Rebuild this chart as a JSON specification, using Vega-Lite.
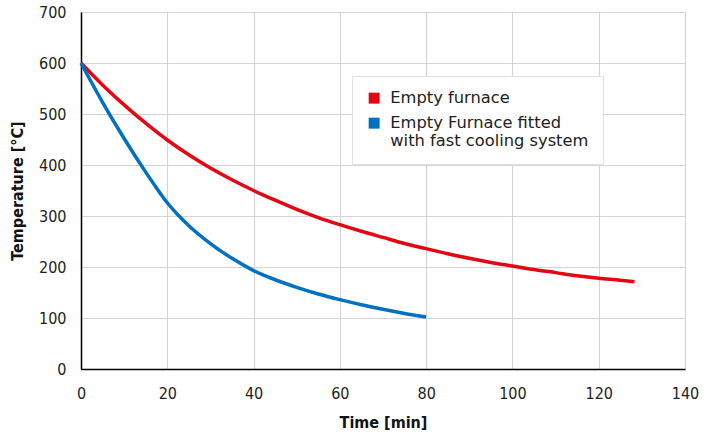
{
  "$schema": "https://vega.github.io/schema/vega-lite/v6.json",
  "autosize": "none",
  "width": 604,
  "height": 357,
  "padding": {"left": 81, "top": 12, "right": 25, "bottom": 68},
  "background": "white",
  "config": {
    "view": {"stroke": null},
    "font": "DejaVu Sans",
    "axis": {
      "gridColor": "#d4d4d4",
      "gridWidth": 1.2,
      "domainColor": "#000000",
      "domainWidth": 1.5,
      "ticks": false,
      "labelFont": "DejaVu Sans Condensed",
      "labelFontSize": 16,
      "labelColor": "#222222",
      "titleFont": "DejaVu Sans Condensed",
      "titleFontSize": 16,
      "titleFontWeight": "bold",
      "titleColor": "#111111"
    }
  },
  "data": {
    "values": [
      {"t": 0, "T": 600, "s": "Empty furnace"},
      {"t": 5, "T": 557, "s": "Empty furnace"},
      {"t": 10, "T": 518, "s": "Empty furnace"},
      {"t": 15, "T": 482, "s": "Empty furnace"},
      {"t": 20, "T": 449, "s": "Empty furnace"},
      {"t": 25, "T": 420, "s": "Empty furnace"},
      {"t": 30, "T": 394, "s": "Empty furnace"},
      {"t": 35, "T": 371, "s": "Empty furnace"},
      {"t": 40, "T": 350, "s": "Empty furnace"},
      {"t": 45, "T": 331, "s": "Empty furnace"},
      {"t": 50, "T": 313, "s": "Empty furnace"},
      {"t": 55, "T": 297, "s": "Empty furnace"},
      {"t": 60, "T": 283, "s": "Empty furnace"},
      {"t": 65, "T": 270, "s": "Empty furnace"},
      {"t": 70, "T": 258, "s": "Empty furnace"},
      {"t": 75, "T": 246, "s": "Empty furnace"},
      {"t": 80, "T": 236, "s": "Empty furnace"},
      {"t": 85, "T": 226, "s": "Empty furnace"},
      {"t": 90, "T": 217, "s": "Empty furnace"},
      {"t": 95, "T": 209, "s": "Empty furnace"},
      {"t": 100, "T": 202, "s": "Empty furnace"},
      {"t": 105, "T": 195, "s": "Empty furnace"},
      {"t": 110, "T": 189, "s": "Empty furnace"},
      {"t": 115, "T": 183, "s": "Empty furnace"},
      {"t": 120, "T": 178, "s": "Empty furnace"},
      {"t": 125, "T": 174, "s": "Empty furnace"},
      {"t": 128.3, "T": 171, "s": "Empty furnace"},
      {"t": 0, "T": 600, "s": "Empty Furnace fitted|with fast cooling system"},
      {"t": 5, "T": 523, "s": "Empty Furnace fitted|with fast cooling system"},
      {"t": 10, "T": 452, "s": "Empty Furnace fitted|with fast cooling system"},
      {"t": 15, "T": 386, "s": "Empty Furnace fitted|with fast cooling system"},
      {"t": 17.5, "T": 355, "s": "Empty Furnace fitted|with fast cooling system"},
      {"t": 20, "T": 326, "s": "Empty Furnace fitted|with fast cooling system"},
      {"t": 22.5, "T": 302, "s": "Empty Furnace fitted|with fast cooling system"},
      {"t": 25, "T": 281, "s": "Empty Furnace fitted|with fast cooling system"},
      {"t": 30, "T": 246, "s": "Empty Furnace fitted|with fast cooling system"},
      {"t": 35, "T": 217, "s": "Empty Furnace fitted|with fast cooling system"},
      {"t": 40, "T": 193, "s": "Empty Furnace fitted|with fast cooling system"},
      {"t": 45, "T": 175, "s": "Empty Furnace fitted|with fast cooling system"},
      {"t": 50, "T": 160, "s": "Empty Furnace fitted|with fast cooling system"},
      {"t": 55, "T": 147, "s": "Empty Furnace fitted|with fast cooling system"},
      {"t": 60, "T": 136, "s": "Empty Furnace fitted|with fast cooling system"},
      {"t": 65, "T": 126, "s": "Empty Furnace fitted|with fast cooling system"},
      {"t": 70, "T": 117, "s": "Empty Furnace fitted|with fast cooling system"},
      {"t": 75, "T": 109, "s": "Empty Furnace fitted|with fast cooling system"},
      {"t": 80, "T": 102, "s": "Empty Furnace fitted|with fast cooling system"}
    ]
  },
  "mark": {"type": "line", "strokeWidth": 3.5, "interpolate": "monotone"},
  "encoding": {
    "x": {
      "field": "t", "type": "quantitative", "title": "Time [min]",
      "scale": {"domain": [0, 140], "nice": false},
      "axis": {"values": [0, 20, 40, 60, 80, 100, 120, 140], "labelPadding": 16, "titlePadding": 13, "labelFlush": false}
    },
    "y": {
      "field": "T", "type": "quantitative", "title": "Temperature [°C]",
      "scale": {"domain": [0, 700], "nice": false},
      "axis": {"values": [0, 100, 200, 300, 400, 500, 600, 700], "labelPadding": 15, "titlePadding": 13}
    },
    "color": {
      "field": "s", "type": "nominal",
      "scale": {
        "domain": ["Empty furnace", "Empty Furnace fitted|with fast cooling system"],
        "range": ["#e30613", "#0070c0"]
      },
      "legend": {
        "title": null,
        "orient": "none",
        "legendX": 271,
        "legendY": 64,
        "symbolType": "square",
        "symbolSize": 12,
        "symbolStrokeWidth": 7.5,
        "labelFont": "DejaVu Sans",
        "labelFontSize": 16.3,
        "labelColor": "#222222",
        "labelLimit": 400,
        "labelExpr": "split(datum.label, '|')",
        "rowPadding": -15,
        "padding": 14,
        "fillColor": "white",
        "strokeColor": "#e2e2e2",
        "labelOffset": 8
      }
    }
  }
}
